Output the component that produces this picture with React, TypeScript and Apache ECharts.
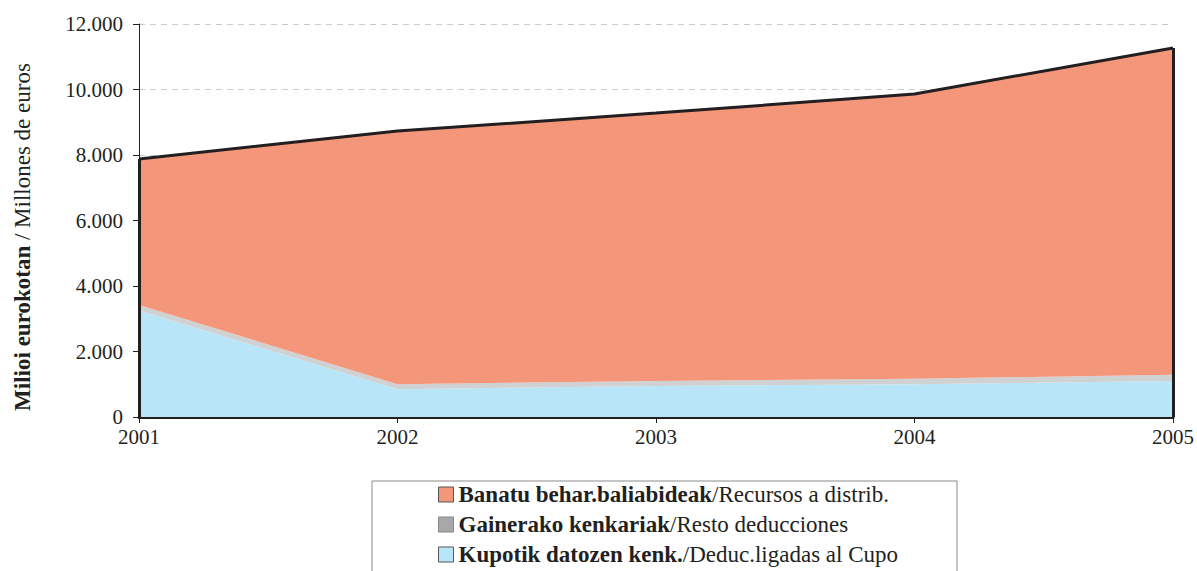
import React, { useEffect, useRef } from "react";
import * as echarts from "echarts";

const years = ["2001", "2002", "2003", "2004", "2005"];
const kupotik = [3250, 850, 950, 1000, 1100];
const gainerako = [170, 150, 150, 170, 190];
const banatu = [4460, 7730, 8180, 8690, 9980];

const nameBanatu = "Banatu behar.baliabideak/Recursos a distrib.";
const nameGainerako = "Gainerako kenkariak/Resto deducciones";
const nameKupotik = "Kupotik datozen kenk./Deduc.ligadas al Cupo";

const yAxisTitleBold = "Milioi eurokotan";
const yAxisTitleRest = " / Millones de euros";

const FONT = "'Liberation Serif', 'Times New Roman', serif";
const INK = "#231f20";

function fmt(v: number): string {
  const s = String(Math.round(v));
  return s.replace(/\B(?=(\d{3})+(?!\d))/g, ".");
}

export default function App() {
  const ref = useRef<HTMLDivElement>(null);
  useEffect(() => {
    document.body.style.margin = "0";
    const chart = echarts.init(ref.current!, null, { renderer: "svg" });
    const totals = years.map((_, i) => kupotik[i] + gainerako[i] + banatu[i]);
    const last = years.length - 1;
    chart.setOption({
      animation: false,
      textStyle: { fontFamily: FONT, color: INK },
      grid: { left: 139, right: 18, top: 24, bottom: 154 },
      xAxis: {
        type: "category",
        data: years,
        boundaryGap: false,
        axisLine: { lineStyle: { color: INK, width: 3 } },
        axisTick: { show: true, length: 6, lineStyle: { color: INK, width: 1 } },
        axisLabel: { fontSize: 21, color: INK, fontFamily: FONT, margin: 9 },
        splitLine: { show: false },
      },
      yAxis: {
        type: "value",
        min: 0,
        max: 12000,
        interval: 2000,
        axisLine: { show: true, lineStyle: { color: INK, width: 1 } },
        axisTick: { show: true, length: 6, lineStyle: { color: INK } },
        axisLabel: {
          fontSize: 21,
          color: INK,
          fontFamily: FONT,
          margin: 16,
          formatter: (v: number) => fmt(v),
        },
        splitLine: { show: true, lineStyle: { color: "#cccccc", type: [6, 5], width: 1 } },
      },
      legend: {
        orient: "vertical",
        left: 438,
        top: 483,
        padding: 0,
        itemWidth: 15,
        itemHeight: 15,
        itemGap: 7,
        icon: "rect",
        selectedMode: false,
        data: [
          { name: nameBanatu, itemStyle: { color: "#f4967a", borderColor: "#555", borderWidth: 1 } },
          { name: nameGainerako, itemStyle: { color: "#a7a8aa", borderColor: "#888", borderWidth: 1 } },
          { name: nameKupotik, itemStyle: { color: "#b9e5f9", borderColor: "#555", borderWidth: 1 } },
        ],
        formatter: (name: string) => {
          const idx = name.indexOf("/");
          return "{b|" + name.slice(0, idx) + "}{n|" + name.slice(idx) + "}";
        },
        textStyle: {
          fontFamily: FONT,
          color: INK,
          fontSize: 23,
          lineHeight: 23,
          rich: {
            b: { fontWeight: "bold", fontSize: 23, lineHeight: 23, fontFamily: FONT, color: INK },
            n: { fontSize: 23, lineHeight: 23, fontFamily: FONT, color: INK },
          },
        },
      },
      graphic: [
        {
          type: "rect",
          shape: { x: 372, y: 481, width: 585, height: 120 },
          style: { fill: "none", stroke: "#8a8a8a", lineWidth: 1 },
          silent: true,
        },
        {
          type: "text",
          x: 22,
          y: 237,
          rotation: Math.PI / 2,
          style: {
            text: "{b|" + yAxisTitleBold + "}{n|" + yAxisTitleRest + "}",
            align: "center",
            verticalAlign: "middle",
            fontFamily: FONT,
            fontSize: 23,
            fill: INK,
            rich: {
              b: { fontWeight: "bold", fontSize: 23, fontFamily: FONT, fill: INK },
              n: { fontSize: 23, fontFamily: FONT, fill: INK },
            },
          },
        },
      ],
      series: [
        {
          name: nameKupotik,
          type: "line",
          stack: "total",
          data: kupotik,
          showSymbol: false,
          lineStyle: { width: 0 },
          areaStyle: { color: "#b9e5f9", opacity: 1 },
          itemStyle: { color: "#b9e5f9" },
          z: 2,
        },
        {
          name: nameGainerako,
          type: "line",
          stack: "total",
          data: gainerako,
          showSymbol: false,
          lineStyle: { width: 0 },
          areaStyle: { color: "#cfd1d3", opacity: 1 },
          itemStyle: { color: "#cfd1d3" },
          z: 2,
        },
        {
          name: nameBanatu,
          type: "line",
          stack: "total",
          data: banatu,
          showSymbol: false,
          lineStyle: { width: 3, color: INK },
          areaStyle: { color: "#f4967a", opacity: 1 },
          itemStyle: { color: "#f4967a" },
          z: 3,
          markLine: {
            silent: true,
            symbol: "none",
            label: { show: false },
            lineStyle: { color: INK, width: 3, type: "solid" },
            data: [
              [{ coord: [0, 0] }, { coord: [0, totals[0]] }],
              [{ coord: [last, 0] }, { coord: [last, totals[last]] }],
            ],
          },
        },
      ],
    });
    return () => chart.dispose();
  }, []);
  return <div ref={ref} style={{ width: 1197, height: 571, position: "absolute", left: 0, top: 0 }} />;
}
